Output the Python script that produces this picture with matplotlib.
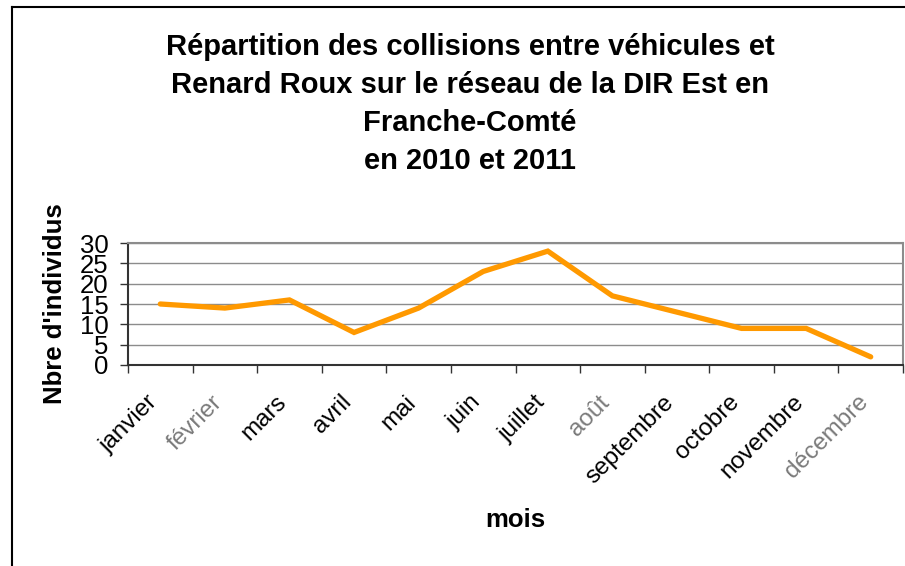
import matplotlib
matplotlib.use("Agg")
import matplotlib.pyplot as plt
from matplotlib.lines import Line2D
from matplotlib.transforms import ScaledTranslation

plt.rcParams['font.family'] = ['Liberation Sans', 'DejaVu Sans']

mois = ['janvier', 'février', 'mars', 'avril', 'mai', 'juin', 'juillet',
        'août', 'septembre', 'octobre', 'novembre', 'décembre']
collisions = [15, 14, 16, 8, 14, 23, 28, 17, 13, 9, 9, 2]
# labels rendered blurry / greyed in the original export
grises = ['février', 'août', 'décembre']

fig = plt.figure(figsize=(9.05, 5.66), dpi=100)
ax = fig.add_axes([128/905, 1-365/566, (903-128)/905, (365-243)/566])

x = [i + 0.5 for i in range(len(mois))]
ax.plot(x, collisions, color='#FF9900', linewidth=3.8, solid_capstyle='round',
        solid_joinstyle='miter', zorder=3)

ax.set_xlim(0, len(mois))
ax.set_ylim(0, 30)
ax.set_yticks(range(0, 31, 5))
ax.grid(axis='y', color='#8c8c8c', linewidth=1)

# ticks between categories, labels at the centre
ax.set_xticks(range(len(mois) + 1))
ax.set_xticklabels([])
ax.set_xticks(x, minor=True)
ax.set_xticklabels(mois, minor=True, rotation=45, ha='right', va='center',
                   rotation_mode='anchor', fontsize=17.5)
ax.tick_params(axis='x', which='minor', length=0, pad=23)
ax.tick_params(axis='x', which='major', length=6, width=1, color='#333333')
ax.tick_params(axis='y', length=6, width=1, color='#333333', labelsize=18.5, pad=8)
decal = ScaledTranslation(-6/100, -2/100, fig.dpi_scale_trans)
for lab in ax.get_xticklabels(minor=True):
    lab.set_transform(lab.get_transform() + decal)
    if lab.get_text() in grises:
        lab.set_color('#7a7a7a')

for s in ['top', 'right']:
    ax.spines[s].set_color('#8c8c8c')
    ax.spines[s].set_linewidth(1.5)
for s in ['left', 'bottom']:
    ax.spines[s].set_color('#333333')
    ax.spines[s].set_linewidth(1.5)

fig.text(515/905, 1-520/566, 'mois', ha='center', va='center',
         fontsize=18.5, fontweight='bold')
fig.text(55/905, 1-304/566, "Nbre d'individus", rotation=90, ha='center',
         va='center', fontsize=18.5, fontweight='bold')

fig.text(470/905, 1-104/566,
         "Répartition des collisions entre véhicules et\n"
         "Renard Roux sur le réseau de la DIR Est en\n"
         "Franche-Comté\n"
         "en 2010 et 2011",
         ha='center', va='center', fontsize=21, fontweight='bold', linespacing=1.46)

# outer chart frame (left and top edges visible)
fig.add_artist(Line2D([12/905, 12/905], [0, 1-7/566], color='black', linewidth=1.5))
fig.add_artist(Line2D([12/905, 1], [1-7/566, 1-7/566], color='black', linewidth=1.5))

fig.savefig('out.png', dpi=100)
